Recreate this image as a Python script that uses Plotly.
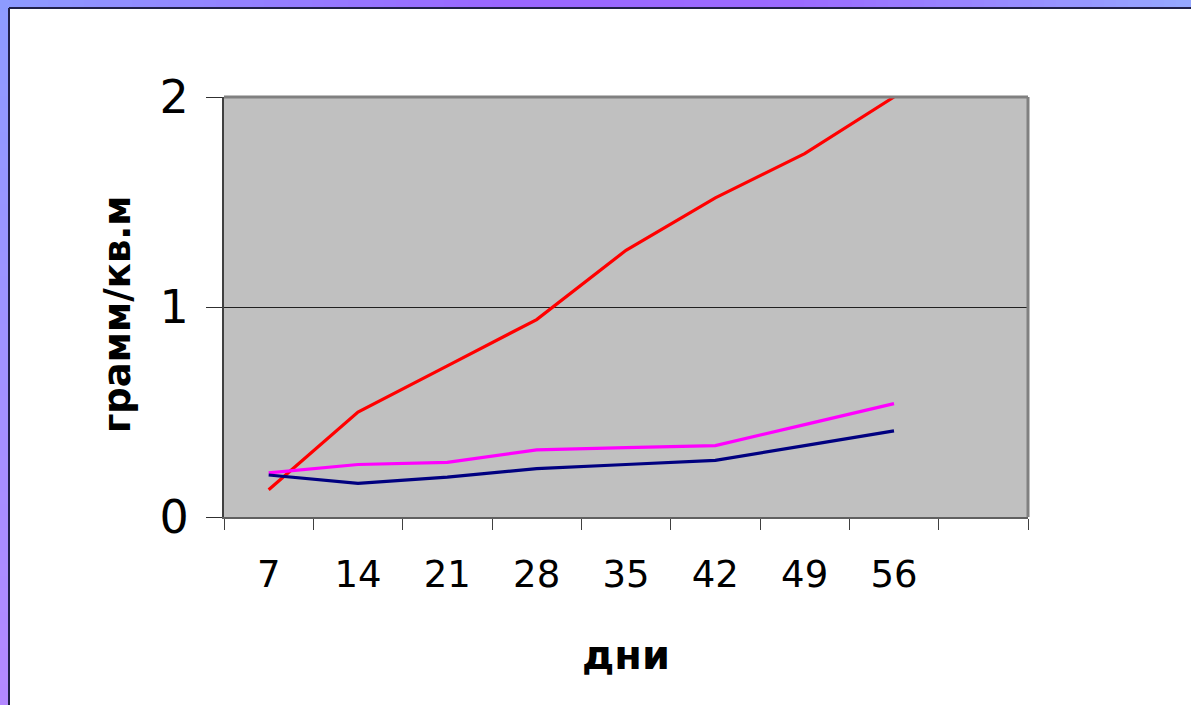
import plotly.graph_objects as go

# Sampling days (the ninth slot on the axis is left empty)
days = ["7", "14", "21", "28", "35", "42", "49", "56"]
axis_slots = days + [" "]

# Biomass, g per sq. m
series_red = [0.13, 0.50, 0.72, 0.94, 1.27, 1.52, 1.73, 2.00]
series_magenta = [0.21, 0.25, 0.26, 0.32, 0.33, 0.34, 0.44, 0.54]
series_navy = [0.20, 0.16, 0.19, 0.23, 0.25, 0.27, 0.34, 0.41]

y_ticks = [0, 1, 2]

W, H = 1191, 705
L, R, T, B = 224, 163, 97, 188
PW, PH = W - L - R, H - T - B


def px_x(p):
    return (p - L) / PW


def px_y(p):
    return (H - B - p) / PH


fig = go.Figure()
for vals, col in [(series_red, "#FF0000"), (series_magenta, "#FF00FF"), (series_navy, "#000080")]:
    fig.add_trace(go.Scatter(x=days, y=vals, mode="lines",
                             line=dict(color=col, width=3.2), showlegend=False))


def lerp(c1, c2, t):
    a = [int(c1[i:i + 2], 16) for i in (1, 3, 5)]
    b = [int(c2[i:i + 2], 16) for i in (1, 3, 5)]
    return "#%02x%02x%02x" % tuple(round(a[k] + (b[k] - a[k]) * t) for k in range(3))


shapes = []
# slide frame: gradient strip along the top
top_stops = [(0, "#8d9bff"), (500, "#9966ff"), (800, "#9a6aff"), (1191, "#95a8ff")]
step = 12
for x0 in range(0, W, step):
    xm = x0 + step / 2
    for (a, ca), (b, cb) in zip(top_stops[:-1], top_stops[1:]):
        if a <= xm <= b:
            col = lerp(ca, cb, (xm - a) / (b - a))
            break
    shapes.append(dict(type="rect", xref="paper", yref="paper", layer="above",
                       x0=px_x(x0), x1=px_x(min(x0 + step + 1, W)), y0=px_y(8), y1=px_y(0),
                       fillcolor=col, line=dict(width=0)))
# gradient strip along the left side
for y0 in range(0, H, step):
    col = lerp("#8d9bff", "#b388ff", (y0 + step / 2) / H)
    shapes.append(dict(type="rect", xref="paper", yref="paper", layer="above",
                       x0=px_x(0), x1=px_x(9), y0=px_y(min(y0 + step + 1, H)), y1=px_y(y0),
                       fillcolor=col, line=dict(width=0)))
# dark edge of the white panel
shapes.append(dict(type="line", xref="paper", yref="paper", x0=px_x(9), x1=px_x(W),
                   y0=px_y(8), y1=px_y(8), line=dict(color="#202048", width=2)))
shapes.append(dict(type="line", xref="paper", yref="paper", x0=px_x(9), x1=px_x(9),
                   y0=px_y(8), y1=px_y(H), line=dict(color="#202048", width=2)))
# grey top and right edges of the plot area
shapes.append(dict(type="line", xref="paper", yref="paper", x0=0, x1=1, y0=1, y1=1,
                   line=dict(color="#808080", width=3)))
shapes.append(dict(type="line", xref="paper", yref="paper", x0=1, x1=1, y0=0, y1=1,
                   line=dict(color="#808080", width=3)))

# axis titles placed as annotations
annotations = [
    dict(text="<b>грамм/кв.м</b>", xref="paper", yref="paper", x=px_x(117), y=px_y(314),
         textangle=-90, showarrow=False, xanchor="center", yanchor="middle",
         font=dict(family="DejaVu Sans", size=37, color="black")),
    dict(text="<b>дни</b>", xref="paper", yref="paper", x=0.5, y=px_y(655),
         showarrow=False, xanchor="center", yanchor="middle",
         font=dict(family="DejaVu Sans", size=40, color="black")),
]

fig.update_layout(
    width=W, height=H,
    margin=dict(l=L, r=R, t=T, b=B, pad=0),
    paper_bgcolor="white",
    plot_bgcolor="#C0C0C0",
    shapes=shapes,
    annotations=annotations,
    xaxis=dict(
        type="category", categoryorder="array", categoryarray=axis_slots,
        range=[-0.5, 8.5], tickson="boundaries", ticks="outside", ticklen=11,
        tickcolor="#404040", tickwidth=1, ticklabelstandoff=24,
        showline=True, linecolor="#606060", linewidth=2, showgrid=False,
        tickfont=dict(family="DejaVu Sans", size=37, color="black"),
        fixedrange=True,
    ),
    yaxis=dict(
        range=[0, 2], tickvals=y_ticks, ticks="outside", ticklen=16,
        tickcolor="#303030", tickwidth=1, ticklabelstandoff=8,
        showline=True, linecolor="#404040", linewidth=2,
        showgrid=True, gridcolor="#202020", gridwidth=1, zeroline=False,
        tickfont=dict(family="DejaVu Sans", size=46, color="black"),
        fixedrange=True,
    ),
)

fig.write_html("out.html")
